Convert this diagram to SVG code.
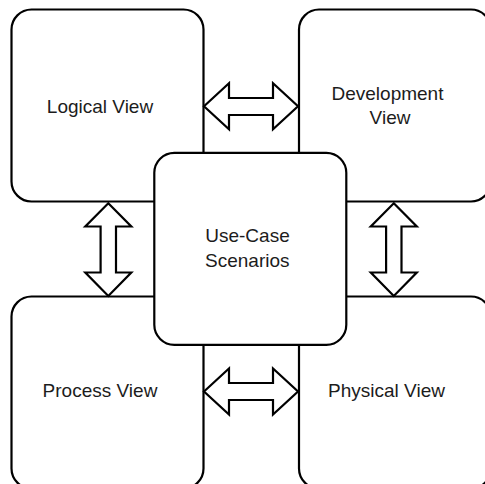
<svg xmlns="http://www.w3.org/2000/svg" width="485" height="484" viewBox="0 0 485 484">
  <style>
    .box { fill: #ffffff; stroke: #000000; stroke-width: 2.2; }
    .arrow { fill: #ffffff; stroke: #000000; stroke-width: 2.2; stroke-linejoin: miter; }
    .label { font-family: "Liberation Sans", Arial, Helvetica, sans-serif; font-size: 19px; fill: #1c1c1c; text-anchor: middle; }
  </style>
  <rect width="485" height="484" fill="#ffffff"/>

  <!-- outer views -->
  <g id="logical-view">
    <rect class="box" x="11.5" y="9.5" width="192" height="192" rx="20" ry="20"/>
    <text class="label" x="100" y="113.3">Logical View</text>
  </g>
  <g id="development-view">
    <rect class="box" x="299" y="9.5" width="192" height="192" rx="20" ry="20"/>
    <text class="label" x="387.5" y="100">Development</text>
    <text class="label" x="390" y="124">View</text>
  </g>
  <g id="process-view">
    <rect class="box" x="11.5" y="296.5" width="192" height="192" rx="20" ry="20"/>
    <text class="label" x="100" y="396.7">Process View</text>
  </g>
  <g id="physical-view">
    <rect class="box" x="299" y="296.5" width="192" height="192" rx="20" ry="20"/>
    <text class="label" x="386.5" y="396.7">Physical View</text>
  </g>

  <!-- central scenarios box sits on top of the four views -->
  <g id="use-case-scenarios">
    <rect class="box" x="154.3" y="152.8" width="192" height="192" rx="20" ry="20"/>
    <text class="label" x="247.5" y="241.7">Use-Case</text>
    <text class="label" x="247.3" y="266.7">Scenarios</text>
  </g>

  <!-- double-headed block arrows between neighbouring views -->
  <g id="connectors">
    <!-- logical <-> development -->
    <polygon class="arrow" points="204,106.3 229,83.3 229,98 273,98 273,83.3 298,106.3 273,129.3 273,115 229,115 229,129.3"/>
    <!-- process <-> physical -->
    <polygon class="arrow" points="204,391.5 229,368.5 229,383 273,383 273,368.5 298,391.5 273,414.5 273,400 229,400 229,414.5"/>
    <!-- logical <-> process -->
    <polygon class="arrow" points="108.3,203.3 131.3,226.5 116,226.5 116,272.5 131.3,272.5 108.3,296 85.3,272.5 100.6,272.5 100.6,226.5 85.3,226.5"/>
    <!-- development <-> physical -->
    <polygon class="arrow" points="393.8,203.3 416.8,226.5 401.5,226.5 401.5,272.5 416.8,272.5 393.8,296 370.8,272.5 386.1,272.5 386.1,226.5 370.8,226.5"/>
  </g>
</svg>
